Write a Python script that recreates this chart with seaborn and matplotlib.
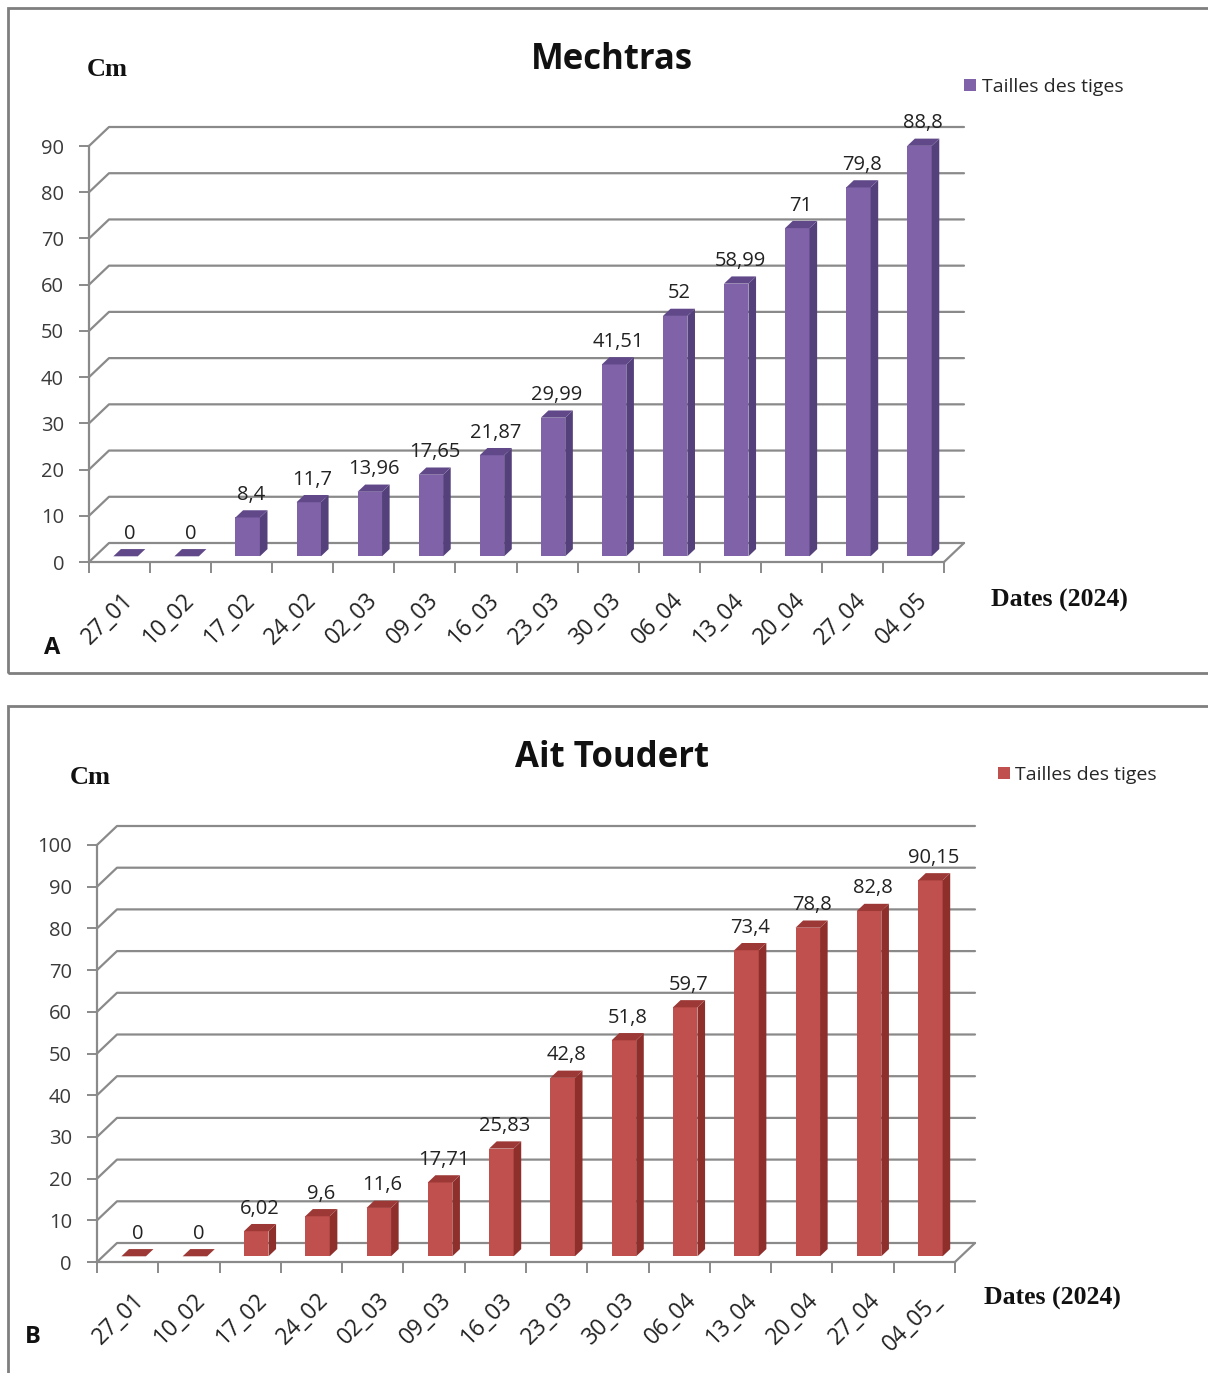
import numpy as np
import matplotlib
matplotlib.use("Agg")
import matplotlib.pyplot as plt
import seaborn as sns
import pandas as pd
from matplotlib.transforms import IdentityTransform, ScaledTranslation
from matplotlib.patches import Polygon, Rectangle, Patch
from matplotlib.lines import Line2D

# ---------------- data ----------------
dates_a = ["27_01", "10_02", "17_02", "24_02", "02_03", "09_03", "16_03",
           "23_03", "30_03", "06_04", "13_04", "20_04", "27_04", "04_05"]
values_a = [0, 0, 8.4, 11.7, 13.96, 17.65, 21.87, 29.99, 41.51, 52, 58.99, 71, 79.8, 88.8]

dates_b = ["27_01", "10_02", "17_02", "24_02", "02_03", "09_03", "16_03",
           "23_03", "30_03", "06_04", "13_04", "20_04", "27_04", "04_05_"]
values_b = [0, 0, 6.02, 9.6, 11.6, 17.71, 25.83, 42.8, 51.8, 59.7, 73.4, 78.8, 82.8, 90.15]

yticks_a = list(range(0, 91, 10))
yticks_b = list(range(0, 101, 10))

title_a = "Mechtras"
title_b = "Ait Toudert"
legend_label = "Tailles des tiges"
ylabel = "Cm"
xlabel = "Dates (2024)"

# ---------------- style ----------------
sns.set_theme(style="white")
SANS = ["Open Sans", "DejaVu Sans"]
SERIF = ["Liberation Serif", "DejaVu Serif"]
plt.rcParams["font.family"] = SANS

W, H = 1208, 1373
DPI = 100
fig = plt.figure(figsize=(W / DPI, H / DPI), dpi=DPI)

GRID = "#8a8a8a"
DX, DY = 20, 19  # depth of the 3-D walls in pixels


def fig_rect(x0, y0, x1, y1):
    """pixel box (top-left origin) -> figure fraction rect"""
    return [x0 / W, 1 - y1 / H, (x1 - x0) / W, (y1 - y0) / H]


def draw_panel(box, ax_px, dates, values, yticks, colors, title, title_xy,
               cm_xy, dates_xy, legend_xy, letter, letter_xy, label_shift):
    front, side, top = colors
    bx0, by0, bx1, by1 = box
    fig.add_artist(Rectangle((bx0 / W, 1 - by1 / H), (bx1 - bx0) / W, (by1 - by0) / H,
                             transform=fig.transFigure, fill=False,
                             edgecolor="#7f7f7f", linewidth=2.0))
    x0p, ytop, x1p, y0p = ax_px
    ax = fig.add_axes(fig_rect(x0p, ytop, x1p, y0p))
    df = pd.DataFrame({"date": dates, "value": values})
    sns.barplot(data=df, x="date", y="value", color=front, saturation=1,
                width=0.4, ax=ax, linewidth=0, zorder=3)
    n = len(dates)
    ymax = yticks[-1]
    ax.set_xlim(-0.5, n - 0.5)
    ax.set_ylim(0, ymax)
    ax.set_xlabel("")
    ax.set_ylabel("")
    for s in ["top", "right"]:
        ax.spines[s].set_visible(False)
    for s in ["left", "bottom"]:
        ax.spines[s].set_color(GRID)
        ax.spines[s].set_linewidth(1.6)
    ax.set_yticks(yticks)
    ax.set_yticklabels([str(v) for v in yticks], fontsize=14.5, color="#3a3a3a")
    ax.tick_params(axis="y", length=7, width=1.4, color=GRID, pad=11, left=True)
    ax.set_xticks(range(n))
    ax.set_xticklabels(dates, rotation=45, ha="right", va="top",
                       rotation_mode="anchor", fontsize=16.5, color="#222222")
    ax.tick_params(axis="x", which="major", length=0, pad=19)
    shift = ScaledTranslation(label_shift / DPI, 0, fig.dpi_scale_trans)
    for lab in ax.get_xticklabels():
        lab.set_transform(lab.get_transform() + shift)
    ax.set_xticks(np.arange(-0.5, n, 1.0), minor=True)
    ax.tick_params(axis="x", which="minor", length=8, width=1.4, color=GRID,
                   bottom=True, direction="out")
    ax.patch.set_alpha(0)

    T = ax.transData

    def d(x, y, f):
        p = T.transform((x, y))
        return (p[0] + f * DX, p[1] + f * DY)

    def line(pts):
        xs, ys = zip(*pts)
        fig.add_artist(Line2D(xs, ys, transform=IdentityTransform(),
                              color=GRID, linewidth=1.6, zorder=1))

    xa, xb = -0.5, n - 0.5
    for v in yticks:
        line([d(xa, v, 0), d(xa, v, 1), d(xb, v, 1)])
    line([d(xb, 0, 0), d(xb, 0, 1)])

    # 3-D bar faces: seaborn's bars give position/size, faces drawn in depth
    f0, f1 = 0.3, 0.68
    for p in list(ax.patches):
        x = p.get_x()
        w = p.get_width()
        h = p.get_height()
        a = d(x, 0, f0)
        b = d(x + w, 0, f0)
        c = d(x + w, h, f0)
        e = d(x, h, f0)
        p.set_visible(False)
        if h > 0:
            fig.add_artist(Polygon([a, b, c, e], closed=True, transform=IdentityTransform(),
                                   facecolor=front, edgecolor="none", zorder=4))
            fig.add_artist(Polygon([b, d(x + w, 0, f1), d(x + w, h, f1), c], closed=True,
                                   transform=IdentityTransform(), facecolor=side,
                                   edgecolor="none", zorder=4))
        fig.add_artist(Polygon([e, c, d(x + w, h, f1), d(x, h, f1)], closed=True,
                               transform=IdentityTransform(), facecolor=top,
                               edgecolor="none", zorder=4))
        lx, ly = d(x + w / 2, h, (f0 + f1) / 2)
        fig.text(lx / W, (ly + 9) / H, f"{h:g}".replace(".", ","), ha="center", va="bottom",
                 fontsize=14.5, color="#222222", zorder=6)

    fig.text(title_xy[0] / W, 1 - title_xy[1] / H, title, ha="center", va="center",
             fontsize=25, fontweight="bold", color="#111111")
    fig.text(cm_xy[0] / W, 1 - cm_xy[1] / H, ylabel, ha="center", va="center",
             fontsize=19, fontweight="bold", family=SERIF, color="#111111")
    fig.text(dates_xy[0] / W, 1 - dates_xy[1] / H, xlabel, ha="center", va="center",
             fontsize=18.5, fontweight="bold", family=SERIF, color="#111111")
    fig.text(letter_xy[0] / W, 1 - letter_xy[1] / H, letter, ha="center", va="center",
             fontsize=17, fontweight="bold", color="#111111")
    fig.legend(handles=[Patch(facecolor=front, edgecolor="none", label=legend_label)],
               loc="center left", bbox_to_anchor=(legend_xy[0] / W, 1 - legend_xy[1] / H),
               frameon=False, fontsize=14, handlelength=0.6, handleheight=0.6,
               handletextpad=0.3, borderaxespad=0, borderpad=0)
    return ax


draw_panel(box=(8, 8, 1210, 673), ax_px=(89, 146, 944, 562),
           dates=dates_a, values=values_a, yticks=yticks_a,
           colors=("#7f62a8", "#54407a", "#604889"), title=title_a,
           title_xy=(612, 60), cm_xy=(107, 70), dates_xy=(1059, 600),
           legend_xy=(964, 87), letter="A", letter_xy=(52, 648), label_shift=2)

draw_panel(box=(8, 706, 1210, 1380), ax_px=(97, 845, 955, 1262),
           dates=dates_b, values=values_b, yticks=yticks_b,
           colors=("#c0504d", "#8e2f2c", "#9c3835"), title=title_b,
           title_xy=(612, 758), cm_xy=(90, 778), dates_xy=(1052, 1298),
           legend_xy=(998, 775), letter="B", letter_xy=(33, 1337), label_shift=5)

fig.savefig("out.png", dpi=DPI)
